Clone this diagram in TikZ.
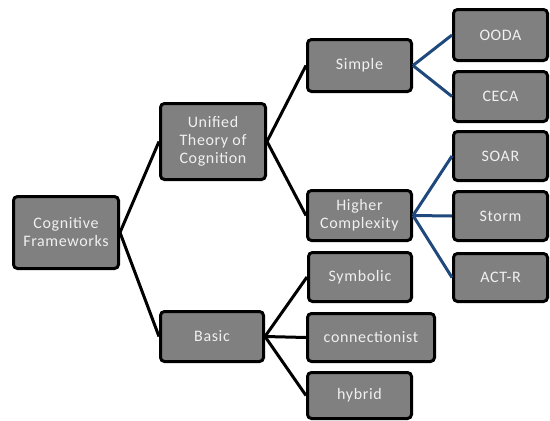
\documentclass[tikz,border=0pt]{standalone}
\usepackage{fontspec}
\setmainfont{Carlito}
\definecolor{boxgray}{RGB}{128,128,128}
\definecolor{linkblue}{RGB}{31,73,125}
\definecolor{txt}{RGB}{240,240,240}
\begin{document}
\begin{tikzpicture}[x=1pt,y=-1pt,
  fbox/.style={draw=black,line width=3pt,rounded corners=4pt,fill=boxgray,
    text=txt,align=center,inner sep=0pt,
    font=\fontsize{16}{18}\selectfont\addfontfeatures{LetterSpace=4}},
  blk/.style={line width=3pt,draw=black},
  blu/.style={line width=3pt,draw=linkblue}]
\useasboundingbox (0,0) rectangle (550,421);
\node[fbox,minimum width=105pt,minimum height=72pt] (cf) at (66,232.5) {Cognitive\\Frameworks};
\node[fbox,minimum width=105pt,minimum height=76pt] (utc) at (213,141.5) {Unified\\Theory of\\Cognition};
\node[fbox,minimum width=103pt,minimum height=50pt] (basic) at (212,336.5) {Basic};
\node[fbox,minimum width=104pt,minimum height=52pt] (simple) at (359.5,65.5) {Simple};
\node[fbox,minimum width=104pt,minimum height=50pt] (higher) at (359.5,215.5) {Higher\\Complexity};
\node[fbox,minimum width=103pt,minimum height=49pt] (symb) at (360,277) {Symbolic};
\node[fbox,minimum width=127pt,minimum height=48pt] (conn) at (371,337.5) {connectionist};
\node[fbox,minimum width=104pt,minimum height=46pt] (hyb) at (359.5,395.5) {hybrid};
\node[fbox,minimum width=94pt,minimum height=51pt] (ooda) at (500.5,35) {OODA};
\node[fbox,minimum width=94pt,minimum height=50pt] (ceca) at (500.5,96.5) {CECA};
\node[fbox,minimum width=94pt,minimum height=49pt] (soar) at (500.5,156) {SOAR};
\node[fbox,minimum width=94pt,minimum height=49pt] (storm) at (500.5,216) {Storm};
\node[fbox,minimum width=94pt,minimum height=48pt] (actr) at (500.5,277.5) {ACT-R};
\begin{scope}[on background layer/.style={}]
\end{scope}
\draw[blk] (cf.east) -- (utc.west);
\draw[blk] (cf.east) -- (basic.west);
\draw[blk] (utc.east) -- (simple.west);
\draw[blk] (utc.east) -- (higher.west);
\draw[blk] (basic.east) -- (symb.west);
\draw[blk] (basic.east) -- (conn.west);
\draw[blk] (basic.east) -- (hyb.west);
\draw[blu] (simple.east) -- (ooda.west);
\draw[blu] (simple.east) -- (ceca.west);
\draw[blu] (higher.east) -- (soar.west);
\draw[blu] (higher.east) -- (storm.west);
\draw[blu] (higher.east) -- (actr.west);
\end{tikzpicture}
\end{document}
